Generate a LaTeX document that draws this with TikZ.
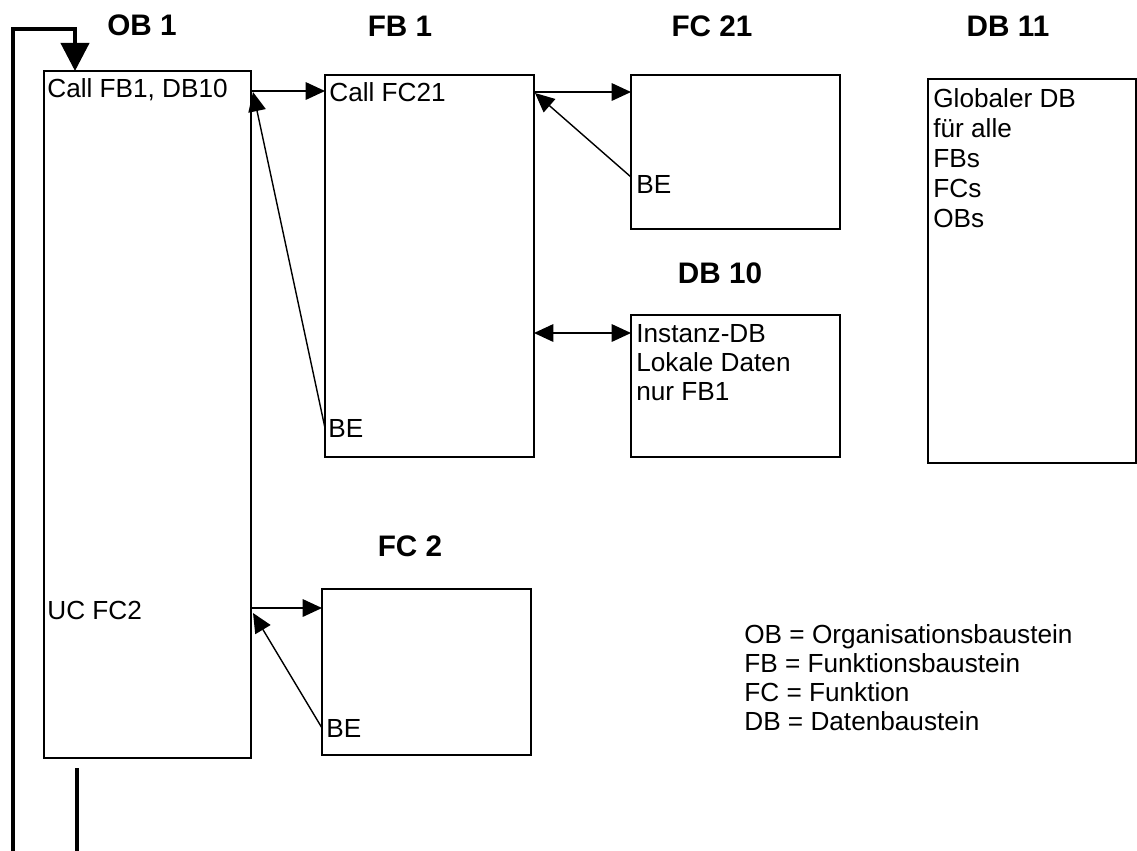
\documentclass[tikz,border=0pt]{standalone}
\usepackage{fontspec}
\setmainfont{Liberation Sans}
\usetikzlibrary{arrows.meta,calc}
\begin{document}
\begin{tikzpicture}[x=0.02cm,y=-0.02cm,
 box/.style={draw, line width=1.2pt, rectangle, anchor=north west, outer sep=0pt, inner sep=0pt},
 txt/.style={anchor=base west, inner sep=0pt, font=\fontsize{14.9}{17}\selectfont},
 ttl/.style={anchor=base, inner sep=0pt, font=\fontsize{16.9}{19}\selectfont\bfseries},
 arr/.style={line width=0.8pt, -{Triangle[length=11pt,width=10pt]}},
 darr/.style={line width=0.8pt, {Triangle[length=11pt,width=10pt]}-{Triangle[length=11pt,width=10pt]}},
 backloop/.style={line width=2.3pt, -{Triangle[length=16pt,width=16pt]}}
]
\useasboundingbox (0,0) rectangle (1137,850);
\clip (0,0) rectangle (1137,850);

% boxes
\node[box, minimum width=207*0.02cm, minimum height=687*0.02cm] (ob1) at (44,71) {};
\node[box, minimum width=209*0.02cm, minimum height=382*0.02cm] (fb1) at (325,75) {};
\node[box, minimum width=209*0.02cm, minimum height=154*0.02cm] (fc21) at (631,75) {};
\node[box, minimum width=209*0.02cm, minimum height=142*0.02cm] (db10) at (631,315) {};
\node[box, minimum width=208*0.02cm, minimum height=384*0.02cm] (db11) at (928,79) {};
\node[box, minimum width=209*0.02cm, minimum height=166*0.02cm] (fc2) at (322,589) {};

% titles
\node[ttl] (tob1) at (142,35) {OB 1};
\node[ttl] (tfb1) at (400,36) {FB 1};
\node[ttl] (tfc21) at (712,36) {FC 21};
\node[ttl] (tdb11) at (1008,36) {DB 11};
\node[ttl] (tdb10) at (720,283) {DB 10};
\node[ttl] (tfc2) at (410,556) {FC 2};

% texts in boxes
\node[txt] (c1) at (47,97) {Call FB1, DB10};
\node[txt] (u1) at (47,619) {UC FC2};
\node[txt] (c2) at (329,101) {Call FC21};
\node[txt] (be1) at (328,437) {BE};
\node[txt] (be2) at (636,193) {BE};
\node[txt] (be3) at (326,737) {BE};
\node[txt] (d10a) at (636,342) {Instanz-DB};
\node[txt] (d10b) at (636,371) {Lokale Daten};
\node[txt] (d10c) at (636,400) {nur FB1};
\node[txt] (d11a) at (933,107) {Globaler DB};
\node[txt] (d11b) at (933,137) {für alle};
\node[txt] (d11c) at (933,167) {FBs};
\node[txt] (d11d) at (933,197) {FCs};
\node[txt] (d11e) at (933,227) {OBs};

% legend
\node[txt] (l1) at (744,643) {OB = Organisationsbaustein};
\node[txt] (l2) at (744,672) {FB = Funktionsbaustein};
\node[txt] (l3) at (744,701) {FC = Funktion};
\node[txt] (l4) at (744,730) {DB = Datenbaustein};

% calls
\draw[arr] ($(ob1.north east)+(0,20)$) -- ($(fb1.north west)+(0,16)$);
\draw[arr] ($(fb1.north east)+(0,17)$) -- ($(fc21.north west)+(0,17)$);
\draw[darr] ($(fb1.north east)+(0,258)$) -- ($(db10.north west)+(0,18)$);
\draw[arr] ($(ob1.north east)+(0,537)$) -- ($(fc2.north west)+(0,19)$);

% returns
\draw[arr] ($(fc21.north west)+(0,102)$) -- ($(fb1.north east)+(1,18)$);
\draw[arr] ($(fb1.north west)+(0,353)$) -- ($(ob1.north east)+(2,21)$);
\draw[arr] ($(fc2.north west)+(0,139)$) -- ($(ob1.north east)+(2,542)$);

% cycle loop
\coordinate (ls) at ($(ob1.south west)+(33,10)$);
\draw[backloop] (ls) -- (77,853) -- (13,853) -- (13,29) -- (75,29) -- ($(ob1.north west)+(31,0)$);
\end{tikzpicture}
\end{document}
